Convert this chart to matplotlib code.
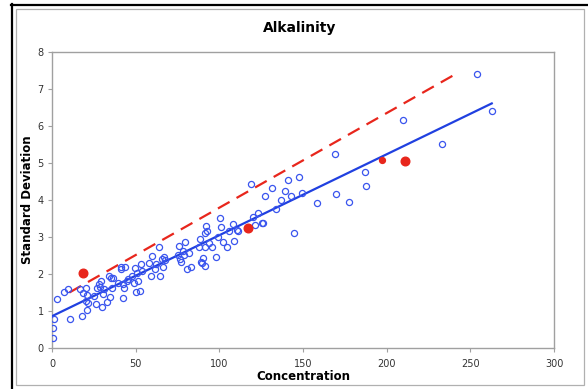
import matplotlib
matplotlib.use("Agg")
import matplotlib.pyplot as plt
from matplotlib.lines import Line2D
from matplotlib.patches import Rectangle

# ---------------- data ----------------
conc = [0.4, 0.8, 1.4, 3.0, 7.2, 9.4, 10.8, 16.7, 17.9, 18.7, 20.1, 20.1, 20.7, 20.7,
        21.5, 25.3, 26.5, 26.9, 28.1, 28.7, 29.3, 30.1, 30.3, 31.3, 32.7, 33.9, 34.5,
        35.3, 35.7, 36.7, 39.6, 41.1, 41.3, 42.2, 42.4, 43.2, 43.6, 44.6, 45.6, 47.8,
        49.0, 49.6, 50.6, 50.4, 51.4, 52.6, 53.2, 54.0, 57.8, 59.0, 59.9, 61.6, 62.3,
        64.1, 64.7, 65.9, 66.3, 66.8, 67.7, 75.5, 75.9, 76.5, 77.1, 78.1, 78.9, 79.7,
        80.9, 81.9, 82.9, 88.1, 88.5, 88.9, 89.5, 90.1, 91.4, 91.8, 91.5, 91.6, 92.8,
        93.7, 95.4, 98.0, 99.4, 100.2, 100.8, 102.0, 104.4, 105.6, 108.4, 108.9, 110.4,
        111.2, 120.3, 121.3, 122.9, 125.7, 126.3, 133.9, 136.8, 144.7,
        119.0, 169.2, 141.0, 147.7, 131.5, 127.5, 139.5, 143.0, 149.4, 169.9, 158.2,
        177.3, 254.0, 263.0, 210.0, 232.9, 187.1, 187.9]
stdev = [0.28, 0.53, 0.79, 1.32, 1.51, 1.59, 0.78, 1.59, 0.86, 1.50, 1.61, 1.28, 1.43, 1.03,
         1.21, 1.41, 1.18, 1.61, 1.73, 1.66, 1.81, 1.10, 1.45, 1.60, 1.25, 1.94, 1.39,
         1.90, 1.63, 1.90, 1.77, 2.20, 2.13, 1.36, 1.74, 1.61, 2.20, 1.81, 1.87, 1.95,
         1.75, 2.15, 2.02, 1.51, 1.80, 1.55, 2.26, 2.08, 2.29, 1.95, 2.50, 2.13, 2.27,
         2.74, 1.95, 2.41, 2.20, 2.45, 2.38, 2.51, 2.77, 2.40, 2.33, 2.63, 2.51, 2.87,
         2.13, 2.56, 2.20, 2.72, 2.94, 2.33, 2.31, 2.42, 3.10, 3.30, 2.22, 2.74, 3.17,
         2.83, 2.72, 2.47, 2.99, 3.52, 3.28, 2.87, 2.73, 3.15, 3.34, 2.90, 3.19,
         3.17, 3.53, 3.32, 3.66, 3.39, 3.39, 3.75, 4.01, 3.10,
         4.42, 5.24, 4.55, 4.62, 4.32, 4.11, 4.25, 4.10, 4.18, 4.16, 3.91,
         3.95, 7.40, 6.41, 6.16, 5.52, 4.76, 4.39]

red_big_x = [18.3, 117.4, 210.8]
red_big_y = [2.03, 3.25, 5.05]
red_small_x = [197.4]
red_small_y = [5.08]

fit_x = [0.0, 262.8]
fit_y = [0.86, 6.61]
limit_x = [10.4, 239.5]
limit_y = [1.50, 7.36]

x_ticks = [0, 50, 100, 150, 200, 250, 300]
y_ticks = [0, 1, 2, 3, 4, 5, 6, 7, 8]

title = "Alkalinity"
xlabel = "Concentration"
ylabel = "Standard Deviation"

# ---------------- figure ----------------
W, H = 588, 389
fig = plt.figure(figsize=(W / 100, H / 100), dpi=100)
fig.patch.set_facecolor("white")

def fx(px):
    return px / W

def fy(py):
    return 1 - py / H

# outer frames
fig.add_artist(Rectangle((fx(16), fy(385)), fx(584) - fx(16), fy(9) - fy(385),
                         transform=fig.transFigure, fill=False, edgecolor="#b0b0b0", lw=0.9))
fig.add_artist(Line2D([fx(11.5), fx(11.5)], [fy(4), fy(389)], transform=fig.transFigure,
                      color="black", lw=1.6))
fig.add_artist(Line2D([fx(11), fx(588)], [fy(4.5), fy(4.5)], transform=fig.transFigure,
                      color="black", lw=1.6))

ax = fig.add_axes([fx(52), fy(348), fx(554) - fx(52), fy(52) - fy(348)])
ax.set_xlim(0, 300)
ax.set_ylim(0, 8)

blue = "#2040e0"
red = "#e8261c"

ax.plot(fit_x, fit_y, color=blue, lw=1.6, zorder=3)
ax.plot(limit_x, limit_y, color=red, lw=1.6, dashes=(6, 3.6), zorder=3)
ax.plot(conc, stdev, linestyle="none", marker="o", markersize=4.4,
        markerfacecolor="none", markeredgecolor="#3a55ee", markeredgewidth=0.9, zorder=4)
ax.plot(red_big_x, red_big_y, linestyle="none", marker="o", markersize=6.2,
        color=red, zorder=5)
ax.plot(red_small_x, red_small_y, linestyle="none", marker="o", markersize=4.2,
        color=red, zorder=5)

ax.set_xticks(x_ticks)
ax.set_yticks(y_ticks)
for s in ax.spines.values():
    s.set_color("#a0a0a0")
    s.set_linewidth(1.0)
ax.tick_params(direction="out", length=3, width=0.8, color="#a0a0a0",
               labelsize=7, labelcolor="#333333", pad=3)
ax.tick_params(axis="x", pad=5)

fig.text(fx(300), fy(28), title, ha="center", va="center", fontsize=10,
         fontweight="bold", color="black")
fig.text(fx(303), fy(377), xlabel, ha="center", va="center", fontsize=8.5,
         fontweight="bold", color="black")
fig.text(fx(28), fy(200), ylabel, ha="center", va="center", fontsize=8.5,
         fontweight="bold", rotation=90, color="black")

fig.savefig("out.png", dpi=100, facecolor="white")
